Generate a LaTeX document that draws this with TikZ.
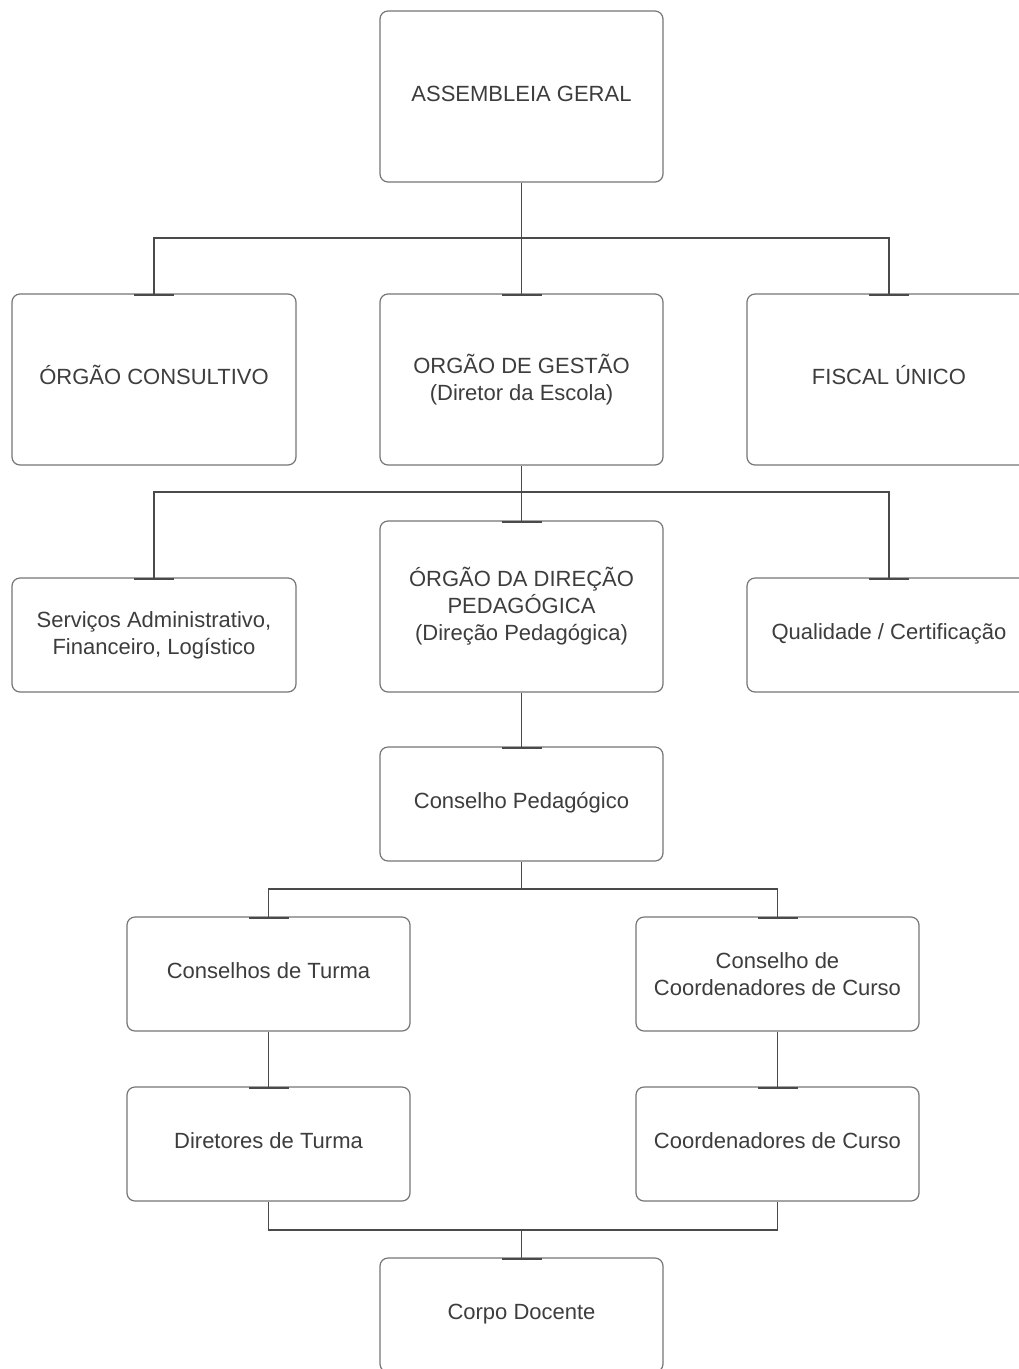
\documentclass[tikz,border=0pt]{standalone}
\usepackage{fontspec}
\setmainfont{Liberation Sans}
\usetikzlibrary{arrows.meta}
\definecolor{textgray}{HTML}{3D3D3D}
\definecolor{boxgray}{HTML}{767676}
\definecolor{conngray}{HTML}{4A4A4A}
\begin{document}
\begin{tikzpicture}[x=1pt,y=-1pt,
  box/.style={draw=boxgray, line width=1.2pt, rounded corners=8pt, fill=white,
    minimum width=283pt, align=center, text=textgray, inner sep=0pt,
    font=\fontsize{22}{27}\selectfont},
  tall/.style={box, minimum height=171pt},
  short/.style={box, minimum height=114pt},
  one/.style={text height=15pt, text depth=6pt},
  conn/.style={draw=conngray, line width=1.6pt},
  tee/.style={-{Bar[width=40pt,line width=2.4pt]}, shorten >=-2.5pt}
]
\useasboundingbox (0,0) rectangle (1019,1369);
\fill[white] (0,0) rectangle (1019,1369);

\node[tall, one] (ag) at (521.5,96.5) {ASSEMBLEIA GERAL};
\node[tall, one, minimum width=284pt] (oc) at (154,379.5) {ÓRGÃO CONSULTIVO};
\node[tall] (og) at (521.5,379.5) {ORGÃO DE GESTÃO\\(Diretor da Escola)};
\node[tall, one, minimum width=284pt] (fu) at (889,379.5) {FISCAL ÚNICO};

\node[short, minimum width=284pt] (sa) at (154,635) {Serviços Administrativo,\\Financeiro, Logístico};
\node[tall] (odp) at (521.5,606.5) {ÓRGÃO DA DIREÇÃO\\PEDAGÓGICA\\(Direção Pedagógica)};
\node[short, one, minimum width=284pt] (qc) at (889,635) {Qualidade / Certificação};

\node[short, one] (cp) at (521.5,804) {Conselho Pedagógico};

\node[short, one] (ct) at (268.5,974) {Conselhos de Turma};
\node[short] (ccc) at (777.5,974) {Conselho de\\Coordenadores de Curso};
\node[short, one] (dt) at (268.5,1144) {Diretores de Turma};
\node[short, one] (cc) at (777.5,1144) {Coordenadores de Curso};
\node[short, one] (cd) at (521.5,1315) {Corpo Docente};

\coordinate (h1) at (521.5,238);
\coordinate (h2) at (521.5,492);
\coordinate (h3) at (521.5,889);
\coordinate (h4) at (521.5,1230);

\draw[conn] (ag.south) -- (h1);
\draw[conn,tee] (h1) -| (oc.north);
\draw[conn,tee] (h1) -| (fu.north);
\draw[conn,tee] (h1) -- (og.north);

\draw[conn] (og.south) -- (h2);
\draw[conn,tee] (h2) -| (sa.north);
\draw[conn,tee] (h2) -| (qc.north);
\draw[conn,tee] (h2) -- (odp.north);

\draw[conn,tee] (odp.south) -- (cp.north);

\draw[conn] (cp.south) -- (h3);
\draw[conn,tee] (h3) -| (ct.north);
\draw[conn,tee] (h3) -| (ccc.north);

\draw[conn,tee] (ct.south) -- (dt.north);
\draw[conn,tee] (ccc.south) -- (cc.north);

\draw[conn] (dt.south) |- (h4);
\draw[conn] (cc.south) |- (h4);
\draw[conn,tee] (h4) -- (cd.north);
\end{tikzpicture}
\end{document}
